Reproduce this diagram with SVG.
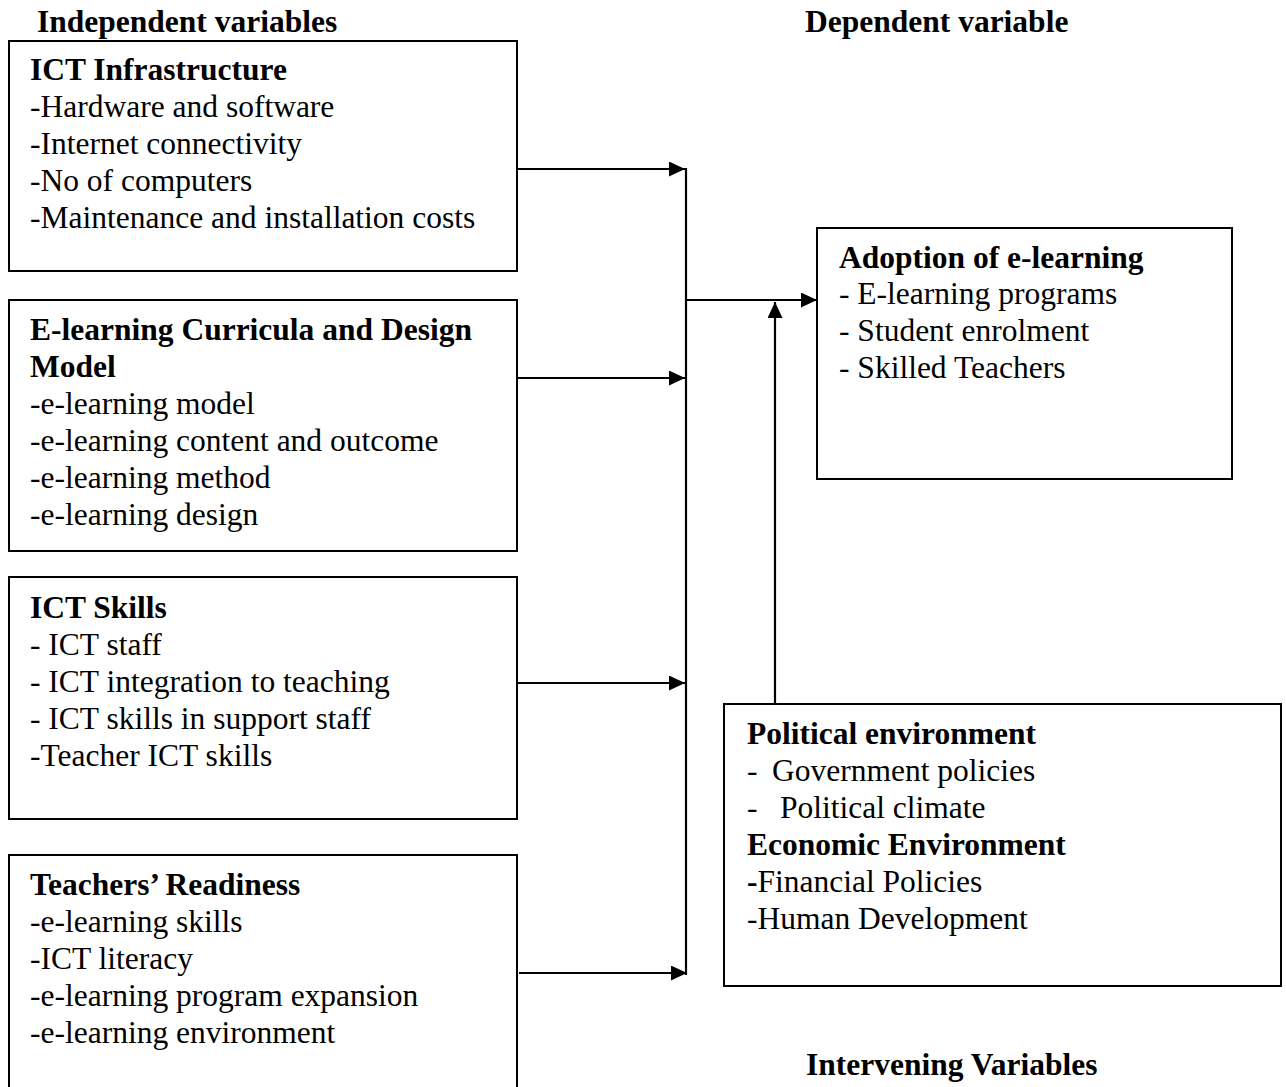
<svg xmlns="http://www.w3.org/2000/svg" width="1286" height="1087" viewBox="0 0 1286 1087">
<style>
text{font-family:"Liberation Serif","Times New Roman",serif;font-size:31.5px;fill:#000}
.b{font-weight:bold}
.box{fill:#fff;stroke:#000;stroke-width:2}
.ln{fill:none;stroke:#000;stroke-width:2.2}
</style>
<defs>
<marker id="ah" viewBox="0 0 16 15" refX="16" refY="7.5" markerWidth="16" markerHeight="15" markerUnits="userSpaceOnUse" orient="auto">
<path d="M0,0 L16,7.5 L0,15 z" fill="#000"/>
</marker>
</defs>
<rect width="1286" height="1087" fill="#fff"/>

<g id="labels">
<text class="b" x="37" y="32">Independent variables</text>
<text class="b" x="805" y="32">Dependent variable</text>
<text class="b" x="806" y="1075">Intervening Variables</text>
</g>

<g id="ict-infrastructure">
<rect class="box" x="9" y="41" width="508" height="230"/>
<text class="b" x="30" y="80">ICT Infrastructure</text>
<text x="30" y="117">-Hardware and software</text>
<text x="30" y="154">-Internet connectivity</text>
<text x="30" y="191">-No of computers</text>
<text x="30" y="228">-Maintenance and installation costs</text>
</g>

<g id="elearning-curricula">
<rect class="box" x="9" y="300" width="508" height="251"/>
<text class="b" x="30" y="340">E-learning Curricula and Design</text>
<text class="b" x="30" y="377">Model</text>
<text x="30" y="414">-e-learning model</text>
<text x="30" y="451">-e-learning content and outcome</text>
<text x="30" y="488">-e-learning method</text>
<text x="30" y="525">-e-learning design</text>
</g>

<g id="ict-skills">
<rect class="box" x="9" y="577" width="508" height="242"/>
<text class="b" x="30" y="618">ICT Skills</text>
<text x="30" y="655">- ICT staff</text>
<text x="30" y="692">- ICT integration to teaching</text>
<text x="30" y="729">- ICT skills in support staff</text>
<text x="30" y="766">-Teacher ICT skills</text>
</g>

<g id="teachers-readiness">
<rect class="box" x="9" y="855" width="508" height="250"/>
<text class="b" x="30" y="895">Teachers’ Readiness</text>
<text x="30" y="932">-e-learning skills</text>
<text x="30" y="969">-ICT literacy</text>
<text x="30" y="1006">-e-learning program expansion</text>
<text x="30" y="1043">-e-learning environment</text>
</g>

<g id="adoption">
<rect class="box" x="817" y="228" width="415" height="251"/>
<text class="b" x="839" y="268">Adoption of e-learning</text>
<text x="839" y="304">- E-learning programs</text>
<text x="839" y="341">- Student enrolment</text>
<text x="839" y="378">- Skilled Teachers</text>
</g>

<g id="intervening">
<rect class="box" x="724" y="704" width="557" height="282"/>
<text class="b" x="747" y="744">Political environment</text>
<text x="747" y="781">-</text><text x="772" y="781">Government policies</text>
<text x="747" y="818">-</text><text x="780" y="818">Political climate</text>
<text class="b" x="747" y="855">Economic Environment</text>
<text x="747" y="892"><tspan class="b">-</tspan>Financial Policies</text>
<text x="747" y="929">-Human Development</text>
</g>

<g id="connectors">
<line class="ln" x1="517" y1="169" x2="685" y2="169" marker-end="url(#ah)"/>
<line class="ln" x1="517" y1="378" x2="685" y2="378" marker-end="url(#ah)"/>
<line class="ln" x1="517" y1="683" x2="685" y2="683" marker-end="url(#ah)"/>
<line class="ln" x1="519" y1="973" x2="687" y2="973" marker-end="url(#ah)"/>
<line class="ln" x1="686" y1="168" x2="686" y2="975"/>
<line class="ln" x1="686" y1="300" x2="817" y2="300" marker-end="url(#ah)"/>
<line class="ln" x1="775" y1="704" x2="775" y2="302" marker-end="url(#ah)"/>
</g>
</svg>
